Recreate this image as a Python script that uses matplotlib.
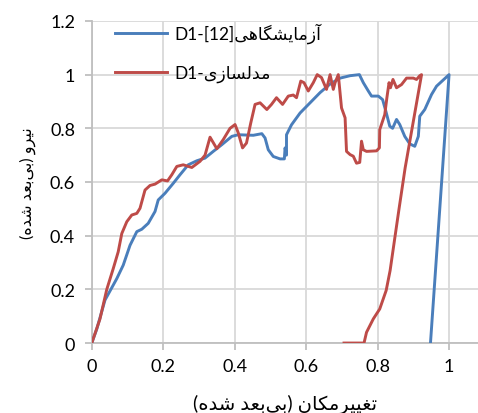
import matplotlib
matplotlib.use("Agg")
import matplotlib.pyplot as plt

# ---------------- data ----------------
exp_x = [0, 0.014, 0.037, 0.07, 0.088, 0.107, 0.126, 0.14, 0.158, 0.177, 0.186, 0.205,
         0.228, 0.247, 0.27, 0.294, 0.317, 0.34, 0.364, 0.392, 0.41, 0.452, 0.476, 0.485,
         0.494, 0.508, 0.527, 0.539, 0.541, 0.545, 0.545, 0.559, 0.583, 0.611, 0.639, 0.667,
         0.695, 0.723, 0.749, 0.76, 0.774, 0.783, 0.802, 0.814, 0.823, 0.834, 0.842, 0.853,
         0.862, 0.876, 0.89, 0.904, 0.914, 0.918, 0.932, 0.951, 0.965, 1.0, 0.948]
exp_y = [0, 0.052, 0.16, 0.24, 0.29, 0.364, 0.415, 0.424, 0.446, 0.49, 0.533, 0.558,
         0.595, 0.627, 0.664, 0.679, 0.689, 0.714, 0.739, 0.77, 0.776, 0.774, 0.78, 0.764,
         0.72, 0.695, 0.686, 0.686, 0.727, 0.70, 0.776, 0.813, 0.857, 0.895, 0.933, 0.965,
         0.987, 0.996, 1.0, 0.97, 0.939, 0.92, 0.92, 0.907, 0.864, 0.808, 0.80, 0.833,
         0.814, 0.77, 0.742, 0.733, 0.77, 0.845, 0.87, 0.926, 0.957, 1.0, 0]

mod_x = [0, 0.023, 0.042, 0.06, 0.074, 0.084, 0.098, 0.112, 0.126, 0.135, 0.149, 0.163,
         0.177, 0.196, 0.212, 0.224, 0.238, 0.256, 0.28, 0.303, 0.317, 0.331, 0.35, 0.368,
         0.387, 0.401, 0.41, 0.422, 0.433, 0.445, 0.457, 0.471, 0.49, 0.503, 0.517, 0.534,
         0.55, 0.564, 0.573, 0.585, 0.594, 0.606, 0.62, 0.631, 0.643, 0.657, 0.667, 0.676,
         0.681, 0.69, 0.699, 0.709, 0.713, 0.723, 0.732, 0.741, 0.75, 0.755, 0.76, 0.769,
         0.797, 0.805, 0.806, 0.82, 0.826, 0.832, 0.836, 0.843, 0.853, 0.867, 0.881, 0.9,
         0.909, 0.918, 0.923, 0.877, 0.86, 0.848, 0.835, 0.824, 0.806, 0.788, 0.769, 0.762,
         0.706]
mod_y = [0, 0.09, 0.2, 0.277, 0.34, 0.408, 0.452, 0.477, 0.483, 0.502, 0.57, 0.587,
         0.592, 0.608, 0.604, 0.627, 0.658, 0.664, 0.654, 0.677, 0.70, 0.767, 0.724, 0.758,
         0.80, 0.814, 0.783, 0.727, 0.745, 0.82, 0.889, 0.895, 0.87, 0.889, 0.914, 0.889,
         0.92, 0.924, 0.914, 0.976, 0.97, 0.939, 0.97, 1.0, 0.989, 0.945, 1.0, 0.945,
         0.97, 1.0, 0.876, 0.839, 0.714, 0.702, 0.696, 0.67, 0.673, 0.752, 0.72, 0.714,
         0.716, 0.727, 0.795, 0.851, 0.914, 0.97, 0.951, 0.982, 0.951, 0.963, 0.987, 0.987,
         0.982, 0.996, 1.0, 0.652, 0.5, 0.39, 0.27, 0.196, 0.127, 0.09, 0.04, 0,
         0]

x_ticks = [0, 0.2, 0.4, 0.6, 0.8, 1]
x_tick_labels = ["0", "0.2", "0.4", "0.6", "0.8", "1"]
y_ticks = [0, 0.2, 0.4, 0.6, 0.8, 1, 1.2]
y_tick_labels = ["0", "0.2", "0.4", "0.6", "0.8", "1", "1.2"]

exp_prefix = "D1-[12]"
exp_word = "آزمایشگاهی"
mod_prefix = "D1-"
mod_word = "مدلسازی"
x_label = "تغییرمکان (بی\u200cبعد شده)"
y_label = "نیرو (بی\u200cبعد شده)"

# ------------- simple Arabic/Persian shaping -------------
FORMS = {
    'ا': (0xFE8D, 0xFE8E, None, None),
    'آ': (0xFE81, 0xFE82, None, None),
    'ب': (0xFE8F, 0xFE90, 0xFE91, 0xFE92),
    'ت': (0xFE95, 0xFE96, 0xFE97, 0xFE98),
    'د': (0xFEA9, 0xFEAA, None, None),
    'ر': (0xFEAD, 0xFEAE, None, None),
    'ز': (0xFEAF, 0xFEB0, None, None),
    'س': (0xFEB1, 0xFEB2, 0xFEB3, 0xFEB4),
    'ش': (0xFEB5, 0xFEB6, 0xFEB7, 0xFEB8),
    'ع': (0xFEC9, 0xFECA, 0xFECB, 0xFECC),
    'غ': (0xFECD, 0xFECE, 0xFECF, 0xFED0),
    'ل': (0xFEDD, 0xFEDE, 0xFEDF, 0xFEE0),
    'م': (0xFEE1, 0xFEE2, 0xFEE3, 0xFEE4),
    'ن': (0xFEE5, 0xFEE6, 0xFEE7, 0xFEE8),
    'ه': (0xFEE9, 0xFEEA, 0xFEEB, 0xFEEC),
    'و': (0xFEED, 0xFEEE, None, None),
    'ی': (0xFBFC, 0xFBFD, 0xFBFE, 0xFBFF),
    'ک': (0xFB8E, 0xFB8F, 0xFB90, 0xFB91),
    'گ': (0xFB92, 0xFB93, 0xFB94, 0xFB95),
}


def shape(text):
    out = []
    n = len(text)
    for i, c in enumerate(text):
        if c not in FORMS:
            if c != '\u200c':
                out.append(c)
            continue
        f = FORMS[c]
        prev = text[i - 1] if i > 0 else ''
        nxt = text[i + 1] if i + 1 < n else ''
        prev_join = prev in FORMS and FORMS[prev][2] is not None
        dual = f[2] is not None
        next_join = dual and nxt in FORMS
        if prev_join and next_join:
            out.append(chr(f[3]))
        elif prev_join:
            out.append(chr(f[1]))
        elif next_join:
            out.append(chr(f[2]))
        else:
            out.append(chr(f[0]))
    return out


def rtl(text):
    chars = shape(text)[::-1]
    swap = {'(': ')', ')': '('}
    return ''.join(swap.get(c, c) for c in chars)


FAM = ['Lato', 'DejaVu Sans']
plt.rcParams['font.family'] = FAM

fig = plt.figure(figsize=(4.78, 4.14), dpi=100)
ax = fig.add_axes([0.192, 0.169, 0.808, 0.778])

blue = '#4A7EBB'
red = '#BE4B48'
ax.plot(exp_x, exp_y, color=blue, lw=2.1, solid_joinstyle='round',
        label=exp_prefix + rtl(exp_word), zorder=3)
ax.plot(mod_x, mod_y, color=red, lw=2.1, solid_joinstyle='round',
        label=mod_prefix + rtl(mod_word), zorder=3)

ax.set_xlim(0, 1.081)
ax.set_ylim(0, 1.2)
ax.set_xticks(x_ticks)
ax.set_xticklabels(x_tick_labels)
ax.set_yticks(y_ticks)
ax.set_yticklabels(y_tick_labels)
ax.grid(True, color='#D9D9D9', lw=1.3)
ax.set_axisbelow(True)
for s in ['top', 'right']:
    ax.spines[s].set_visible(False)
for s in ['left', 'bottom']:
    ax.spines[s].set_color('#BFBFBF')
    ax.spines[s].set_linewidth(1.3)
ax.tick_params(axis='both', colors='#BFBFBF', labelcolor='black', labelsize=13,
               length=5, width=1.3, direction='out')
ax.tick_params(axis='y', pad=7)
ax.tick_params(axis='x', pad=6)

ax.set_xlabel(rtl(x_label), fontsize=14, labelpad=14)
ax.set_ylabel(rtl(y_label), fontsize=11.5, labelpad=10)

leg = ax.legend(loc='upper left', bbox_to_anchor=(0.06, 0.995), frameon=False,
                fontsize=12.5, handlelength=3.0, handletextpad=0.4,
                labelspacing=1.25, borderpad=0, borderaxespad=0)

fig.savefig('out.png', dpi=100)
